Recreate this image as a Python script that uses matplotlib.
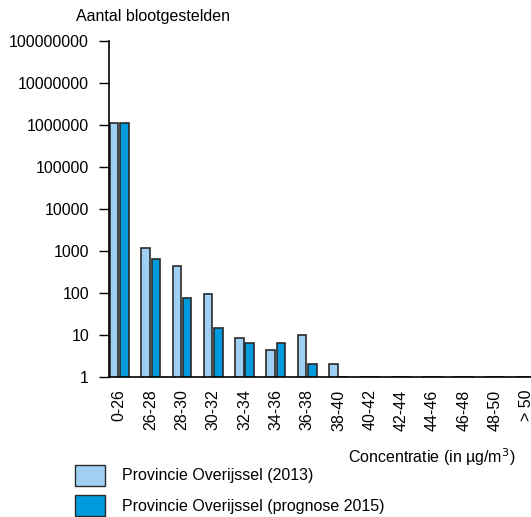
import matplotlib
matplotlib.use("Agg")
import matplotlib.pyplot as plt
import numpy as np
from matplotlib.patches import Patch

plt.rcParams['font.family'] = ['Liberation Sans', 'DejaVu Sans']

categories = ["0-26", "26-28", "28-30", "30-32", "32-34", "34-36", "36-38",
              "38-40", "40-42", "42-44", "44-46", "46-48", "48-50", "> 50"]
values_2013 = [1100000, 1180, 440, 96, 8.6, 4.45, 9.8, 2.0, 1, 1, 1, 1, 1, 1]
values_2015 = [1100000, 660, 74, 14.5, 6.6, 6.4, 2.0, 1, 1, 1, 1, 1, 1, 1]
series_labels = ["Provincie Overijssel (2013)", "Provincie Overijssel (prognose 2015)"]
ytick_values = [1, 10, 100, 1000, 10000, 100000, 1000000, 10000000, 100000000]

c_light = "#9fd0f3"
c_dark = "#009ade"
c_edge = "#2a2a2a"
fs = 11.5

fig = plt.figure(figsize=(5.31, 5.17), dpi=100)
ax = fig.add_axes([108.5/531, 1 - 377/517, 1 - 108.5/531, (377 - 41)/517])

x = np.arange(len(categories))
w = 0.27
ax.bar(x - 0.165, values_2013, width=w, color=c_light, edgecolor=c_edge, linewidth=1.2)
ax.bar(x + 0.165, values_2015, width=w, color=c_dark, edgecolor=c_edge, linewidth=1.2)

ax.set_yscale('log')
ax.set_ylim(1, 1e8)
ax.set_xlim(-0.345, 13.15)
ax.set_yticks(ytick_values)
ax.set_yticklabels([str(v) for v in ytick_values], fontsize=fs)
ax.yaxis.set_minor_locator(matplotlib.ticker.NullLocator())
ax.set_xticks(x)
ax.set_xticklabels(categories, rotation=90, fontsize=fs)
ax.tick_params(axis='y', length=7, width=1, pad=7, colors='black')
ax.tick_params(axis='x', length=0, pad=9)
for s in ['top', 'right']:
    ax.spines[s].set_visible(False)
for s in ['left', 'bottom']:
    ax.spines[s].set_linewidth(1.2)

fig.text(76/531, 1 - 17/517, "Aantal blootgestelden", fontsize=fs, ha='left', va='center')
fig.text(515/531, 1 - 457/517, "Concentratie (in µg/m$^3$)", fontsize=fs, ha='right', va='center')

handles = [Patch(facecolor=c_light, edgecolor=c_edge, linewidth=1),
           Patch(facecolor=c_dark, edgecolor=c_edge, linewidth=1)]
fig.legend(handles, series_labels, loc='upper left', bbox_to_anchor=(75/531, 1 - 465/517),
           frameon=False, fontsize=fs, handlelength=1.9, handleheight=1.6,
           handletextpad=1.05, labelspacing=0.6, borderpad=0, borderaxespad=0)

fig.savefig("out.png", dpi=100)
